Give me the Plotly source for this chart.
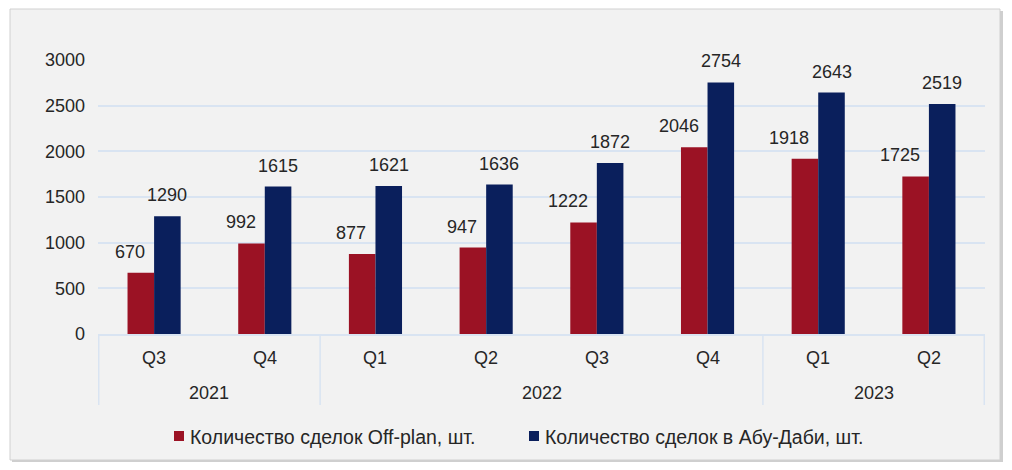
import plotly.graph_objects as go

years = ["2021", "2021", "2022", "2022", "2022", "2022", "2023", "2023"]
quarters = ["Q3", "Q4", "Q1", "Q2", "Q3", "Q4", "Q1", "Q2"]
off_plan = [670, 992, 877, 947, 1222, 2046, 1918, 1725]
abu_dhabi = [1290, 1615, 1621, 1636, 1872, 2754, 2643, 2519]
series_names = ["Количество сделок Off-plan, шт.", "Количество сделок в Абу-Даби, шт."]

red = "#9b1224"
blue = "#0a1f5c"
grid = "#d9e4f2"
txt = "#262626"
FONT = "Liberation Sans, Arial, sans-serif"

# the page puts the figure 8px in from the window corner, so work in window pixels
OFF = 8
W, H = 1012 - 2 * OFF, 470 - 2 * OFF
# plot area in window pixels: x 98..985, y 60..334
L, R, T, B = 98 - OFF, 1012 - OFF - 985, 60 - OFF, 470 - OFF - 334
pw, ph = W - L - R, H - T - B


def px_x(p):
    return (p - OFF - L) / pw


def px_y(p):
    return (H - B - (p - OFF)) / ph


keys = [f"{y} {q}" for y, q in zip(years, quarters)]

fig = go.Figure()
fig.add_trace(go.Bar(x=keys, y=off_plan, name=series_names[0], marker_color=red,
                     marker_line_width=0, showlegend=False))
fig.add_trace(go.Bar(x=keys, y=abu_dhabi, name=series_names[1], marker_color=blue,
                     marker_line_width=0, showlegend=False))

ann = []
# value labels: red ones right-aligned just left of the blue bar, blue ones centred
bar_px = pw / len(keys) * (1 - 0.52) / 2
for k, v in zip(keys, off_plan):
    ann.append(dict(x=k, y=v, xref="x", yref="y", text=str(v), showarrow=False,
                    xanchor="right", yanchor="middle", xshift=-7, yshift=21,
                    font=dict(size=18, color=txt)))
for k, v in zip(keys, abu_dhabi):
    ann.append(dict(x=k, y=v, xref="x", yref="y", text=str(v), showarrow=False,
                    xanchor="center", yanchor="middle", xshift=bar_px / 2, yshift=21,
                    font=dict(size=18, color=txt)))

# quarter labels
for k, q in zip(keys, quarters):
    ann.append(dict(x=k, y=px_y(358), xref="x", yref="paper", text=q, showarrow=False,
                    xanchor="center", yanchor="middle", font=dict(size=18, color=txt)))

# year labels + dividers
shapes = []
bounds = [0] + [i for i in range(1, len(years)) if years[i] != years[i - 1]] + [len(years)]
for a, b in zip(bounds[:-1], bounds[1:]):
    ann.append(dict(x=(a + b - 1) / 2, y=px_y(393), xref="x", yref="paper", text=years[a],
                    showarrow=False, xanchor="center", yanchor="middle",
                    font=dict(size=18, color=txt)))
for b in bounds:
    shapes.append(dict(type="line", xref="x", yref="paper", x0=b - 0.5, x1=b - 0.5,
                       y0=0, y1=px_y(405), line=dict(color=grid, width=1.5)))

# legend
legend_pos = [(174, 188), (529, 543)]
for (sx, tx), name, col in zip(legend_pos, series_names, [red, blue]):
    shapes.append(dict(type="rect", xref="paper", yref="paper", x0=px_x(sx), x1=px_x(sx + 10),
                       y0=px_y(441), y1=px_y(431), fillcolor=col, line_width=0))
    ann.append(dict(x=px_x(tx), y=px_y(437), xref="paper", yref="paper", text=name,
                    showarrow=False, xanchor="left", yanchor="middle",
                    font=dict(size=19.5, color=txt)))

# card with shadow
card = [
    dict(type="rect", xref="paper", yref="paper", layer="below",
         x0=px_x(12), x1=px_x(1003), y0=px_y(463), y1=px_y(11),
         fillcolor="#cfcfcf", line_width=0),
    dict(type="rect", xref="paper", yref="paper", layer="below",
         x0=px_x(10), x1=px_x(1000), y0=px_y(460), y1=px_y(9),
         fillcolor="#f2f2f2", line=dict(color="#d0d0d0", width=1)),
]

fig.update_layout(
    width=W, height=H,
    margin=dict(l=L, r=R, t=T, b=B),
    paper_bgcolor="white", plot_bgcolor="rgba(0,0,0,0)",
    font=dict(family=FONT, size=18, color=txt),
    barmode="group", bargap=0.52, bargroupgap=0,
    showlegend=False,
    annotations=ann,
    shapes=card + shapes,
    yaxis=dict(range=[0, 3000], dtick=500, showgrid=True, gridcolor=grid, gridwidth=1.5,
               zeroline=False, showline=False, ticks="", tickfont=dict(size=18, color=txt),
               ticklabelstandoff=12),
    xaxis=dict(type="category", showline=True, linecolor=grid, linewidth=1.5,
               showticklabels=False, ticks="", showgrid=False),
)

fig.write_html("out.html")
